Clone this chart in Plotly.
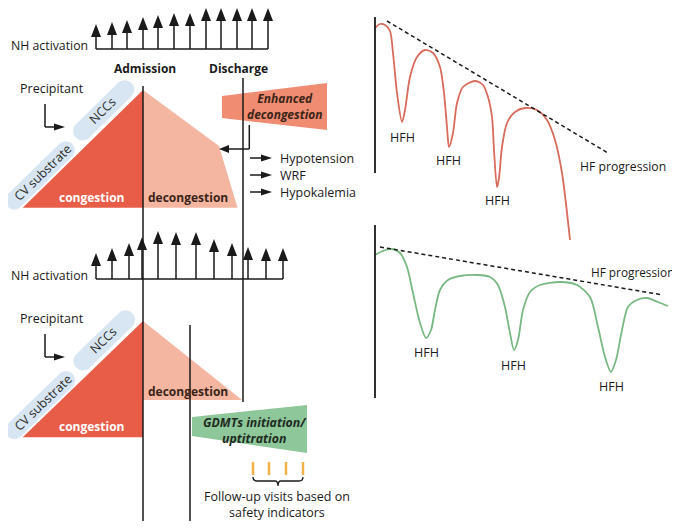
import math
import plotly.graph_objects as go

W, H = 680, 529
PAGE_MARGIN = 8  # default body margin of the written html page
INK = "#1a1a1a"
FONT = "Open Sans"
RED_FILL = "#E85D48"
SALMON = "#F4B6A1"
ENH_FILL = "#EF8C72"
GREEN_FILL = "#8DC79A"
BAND = "#D8E6F3"
ORANGE = "#F2B24A"
RED_LINE = "#D86B5C"
GREEN_LINE = "#78B882"

# ---------------- data ----------------
# NH activation arrows (x position, tip height) and baselines
nh_top_x = [96, 112, 127, 143, 158, 174, 190, 206, 221, 237, 252, 268]
nh_top_tip = [24, 22, 20, 17, 15, 13, 13, 8, 8, 8, 8, 8]
nh_top_base = 49
nh_bot_x = [96, 112, 129, 142, 158, 176, 196, 214, 232, 248, 266, 283]
nh_bot_tip = [253, 248, 243, 237, 231, 232, 232, 239, 243, 247, 248, 248]
nh_bot_base = 279

# Upper clinical course curve (red)
red_x = [375, 380, 385, 390, 393, 397, 402, 405, 410, 417, 425, 433, 440, 444, 447, 449,
         453, 457, 463, 475, 483, 488, 492, 494, 497, 499, 502, 507, 515, 525, 537, 547,
         555, 562, 570]
red_y = [28, 24, 25, 31, 53, 93, 122, 110, 77, 57, 50, 53, 67, 93, 127, 147,
         133, 103, 87, 81, 85, 97, 117, 150, 187, 178, 147, 123, 112, 108, 110, 120,
         140, 173, 240]
red_trend_x = [387, 608]
red_trend_y = [21, 153]

# Lower clinical course curve (green)
green_x = [375, 383, 392, 400, 407, 413, 420, 426, 431, 435, 440, 448, 460, 477, 490, 498,
           505, 510, 514, 518, 523, 530, 540, 560, 577, 590, 598, 605, 611, 616, 622, 628,
           637, 647, 658, 668]
green_y = [255, 251, 249, 253, 267, 293, 323, 338, 330, 310, 290, 280, 276, 275, 277, 285,
           307, 333, 350, 340, 310, 292, 285, 282, 285, 297, 327, 357, 372, 360, 330, 307,
           300, 298, 302, 306]
green_trend_x = [380, 663]
green_trend_y = [247, 295]

hfh_top = [(402, 137), (448, 160), (497, 200)]
hfh_bot = [(426, 352), (513, 365), (611, 386)]

side_effects = ["Hypotension", "WRF", "Hypokalemia"]
side_y = [158, 175, 192]
followup_x = [253, 269, 286, 303]

fig = go.Figure()
shapes = []
ann = []


def line(x0, y0, x1, y1, color=INK, width=1.5, dash=None):
    d = dict(color=color, width=width)
    if dash:
        d["dash"] = dash
    shapes.append(dict(type="line", xref="x", yref="y", x0=x0, y0=y0, x1=x1, y1=y1, line=d))


def poly(pts, fill):
    p = "M " + " L ".join(f"{x},{y}" for x, y in pts) + " Z"
    shapes.append(dict(type="path", xref="x", yref="y", path=p, fillcolor=fill,
                       line=dict(width=0), layer="below"))


def head(tx, ty, dx, dy, length, half, color=INK):
    bx, by = tx - dx * length, ty - dy * length
    px, py = -dy, dx
    p = (f"M {tx},{ty} L {bx + px * half},{by + py * half} "
         f"L {bx - px * half},{by - py * half} Z")
    shapes.append(dict(type="path", xref="x", yref="y", path=p, fillcolor=color,
                       line=dict(width=0)))


def capsule(c0, c1, w, fill):
    ux, uy = c1[0] - c0[0], c1[1] - c0[1]
    L = math.hypot(ux, uy)
    ux, uy = ux / L, uy / L
    nx, ny = -uy, ux
    k = 0.5523 * w

    def P(x, y):
        return f"{x:.2f},{y:.2f}"
    A0 = (c0[0] + nx * w, c0[1] + ny * w)
    B0 = (c0[0] - nx * w, c0[1] - ny * w)
    A1 = (c1[0] + nx * w, c1[1] + ny * w)
    B1 = (c1[0] - nx * w, c1[1] - ny * w)
    T1 = (c1[0] + ux * w, c1[1] + uy * w)
    T0 = (c0[0] - ux * w, c0[1] - uy * w)
    p = (f"M {P(*A0)} L {P(*A1)} "
         f"C {P(A1[0] + k * ux, A1[1] + k * uy)} {P(T1[0] + k * nx, T1[1] + k * ny)} {P(*T1)} "
         f"C {P(T1[0] - k * nx, T1[1] - k * ny)} {P(B1[0] + k * ux, B1[1] + k * uy)} {P(*B1)} "
         f"L {P(*B0)} "
         f"C {P(B0[0] - k * ux, B0[1] - k * uy)} {P(T0[0] - k * nx, T0[1] - k * ny)} {P(*T0)} "
         f"C {P(T0[0] + k * nx, T0[1] + k * ny)} {P(A0[0] - k * ux, A0[1] - k * uy)} {P(*A0)} Z")
    shapes.append(dict(type="path", xref="x", yref="y", path=p, fillcolor=fill,
                       line=dict(width=0), layer="below"))


def text(x, y, s, size=12.5, color=INK, xanchor="center", angle=0):
    ann.append(dict(x=x, y=y, xref="x", yref="y", text=s, showarrow=False,
                    xanchor=xanchor, yanchor="middle", textangle=angle,
                    font=dict(family=FONT, size=size, color=color)))


# ---------------- NH activation ----------------
for xs, tips, base, ty in [(nh_top_x, nh_top_tip, nh_top_base, 45),
                           (nh_bot_x, nh_bot_tip, nh_bot_base, 275)]:
    line(xs[0], base, xs[-1], base)
    for x, t in zip(xs, tips):
        line(x, base, x, t + 10)
        head(x, t, 0, -1, 13, 5)
    text(8.5, ty, "NH activation", size=12.3, xanchor="left")

text(145, 68, "<b>Admission</b>", size=12)
text(238, 68, "<b>Discharge</b>", size=12)

# ---------------- congestion panels ----------------
for dy, top, bot in [(0, 90, 207.7), (230, 321, 437.3)]:
    v0 = (22.7, bot)
    v1 = (143, top)
    poly([v0, v1, (143, bot)], RED_FILL)
    ux, uy = v1[0] - v0[0], v1[1] - v0[1]
    L = math.hypot(ux, uy)
    ux, uy = ux / L, uy / L
    nx, ny = uy, -ux
    if nx > 0:
        nx, ny = -nx, -ny

    def pt(t, d):
        return (v0[0] + ux * t + nx * d, v0[1] + uy * t + ny * d)
    capsule(pt(-1, 11), pt(71, 11), 9, BAND)
    capsule(pt(96.5, 13), pt(155.5, 13), 9.5, BAND)
    ang = -math.degrees(math.atan2(-uy, ux))
    cx, cy = pt(39, 11)
    text(cx, cy, "CV substrate", size=12.5, color="#2a2a2a", angle=ang)
    cx, cy = pt(125, 13.5)
    text(cx, cy, "NCCs", size=12.5, color="#2a2a2a", angle=ang)
    text(52, 88 + dy, "Precipitant")
    line(45, 104 + dy, 45, 127 + dy)
    line(45, 127 + dy, 56, 127 + dy)
    head(65, 127 + dy, 1, 0, 11, 3.5)
    text(92, 197 + dy - (1 if dy else 0), "<b>congestion</b>", size=12, color="white")

poly([(143, 90), (219, 146), (237.5, 207.7), (143, 207.7)], SALMON)
text(188, 197, "<b>decongestion</b>", size=12, color="#3a2418")
poly([(143, 321), (242, 400), (143, 400)], SALMON)
text(188, 391, "<b>decongestion</b>", size=12, color="#3a2418")

poly([(222, 96), (327, 83), (327, 130), (222, 118)], ENH_FILL)
text(285, 106, "<b><i>Enhanced</i></b><br><b><i>decongestion</i></b>", size=12,
     color="#3a2418")
line(249.3, 125, 249.3, 149)
line(249.3, 149, 229, 149)
head(219, 149, -1, 0, 10, 4)

for s, y in zip(side_effects, side_y):
    line(250, y, 262, y)
    head(272, y, 1, 0, 11, 3.5)
    text(278, y, s, xanchor="left")

line(143, 86, 143, 521)
line(243, 78, 243, 402)
line(190, 325, 190, 521)

poly([(192, 417), (307, 405), (307, 453), (192, 436)], GREEN_FILL)
text(255, 430, "<b><i>GDMTs initiation/</i></b><br><b><i>uptitration</i></b>", size=12.3,
     color="#1f2a1f")
for x in followup_x:
    line(x, 462, x, 475, color=ORANGE, width=2.5)
bx0, bx1 = followup_x[0], followup_x[-1]
bm = (bx0 + bx1) / 2
brace = (f"M {bx0},477 Q {bx0},481 {bx0 + 4},481 L {bm - 3},481 Q {bm},481 {bm},486 "
         f"Q {bm},481 {bm + 3},481 L {bx1 - 4},481 Q {bx1},481 {bx1},477")
shapes.append(dict(type="path", xref="x", yref="y", path=brace,
                   line=dict(color=INK, width=1.3)))
text(277, 504, "Follow-up visits based on<br>safety indicators")

# ---------------- right panels ----------------
line(375, 17, 375, 173, width=1.8)
line(375, 225, 375, 398, width=1.8)
fig.add_trace(go.Scatter(x=red_x, y=red_y, mode="lines",
                         line=dict(color=RED_LINE, width=1.8, shape="spline", smoothing=0.8),
                         hoverinfo="skip"))
fig.add_trace(go.Scatter(x=green_x, y=green_y, mode="lines",
                         line=dict(color=GREEN_LINE, width=1.8, shape="spline", smoothing=0.8),
                         hoverinfo="skip"))
for tx, ty in [(red_trend_x, red_trend_y), (green_trend_x, green_trend_y)]:
    fig.add_trace(go.Scatter(x=tx, y=ty, mode="lines",
                             line=dict(color=INK, width=1.5, dash="4px,3px"),
                             hoverinfo="skip"))
for x, y in hfh_top + hfh_bot:
    text(x, y, "HFH")
text(578, 166, "HF progression", size=12.2, xanchor="left")
text(676, 272, "HF progression", size=11.8, xanchor="right")

m = PAGE_MARGIN
fig.update_layout(
    width=W - m, height=H - m, margin=dict(l=0, r=0, t=0, b=0),
    paper_bgcolor="white", plot_bgcolor="white", showlegend=False,
    xaxis=dict(range=[m, W], autorange=False, visible=False, fixedrange=True),
    yaxis=dict(range=[H, m], autorange=False, visible=False, fixedrange=True),
    shapes=shapes, annotations=ann,
)
fig.write_html("out.html")
